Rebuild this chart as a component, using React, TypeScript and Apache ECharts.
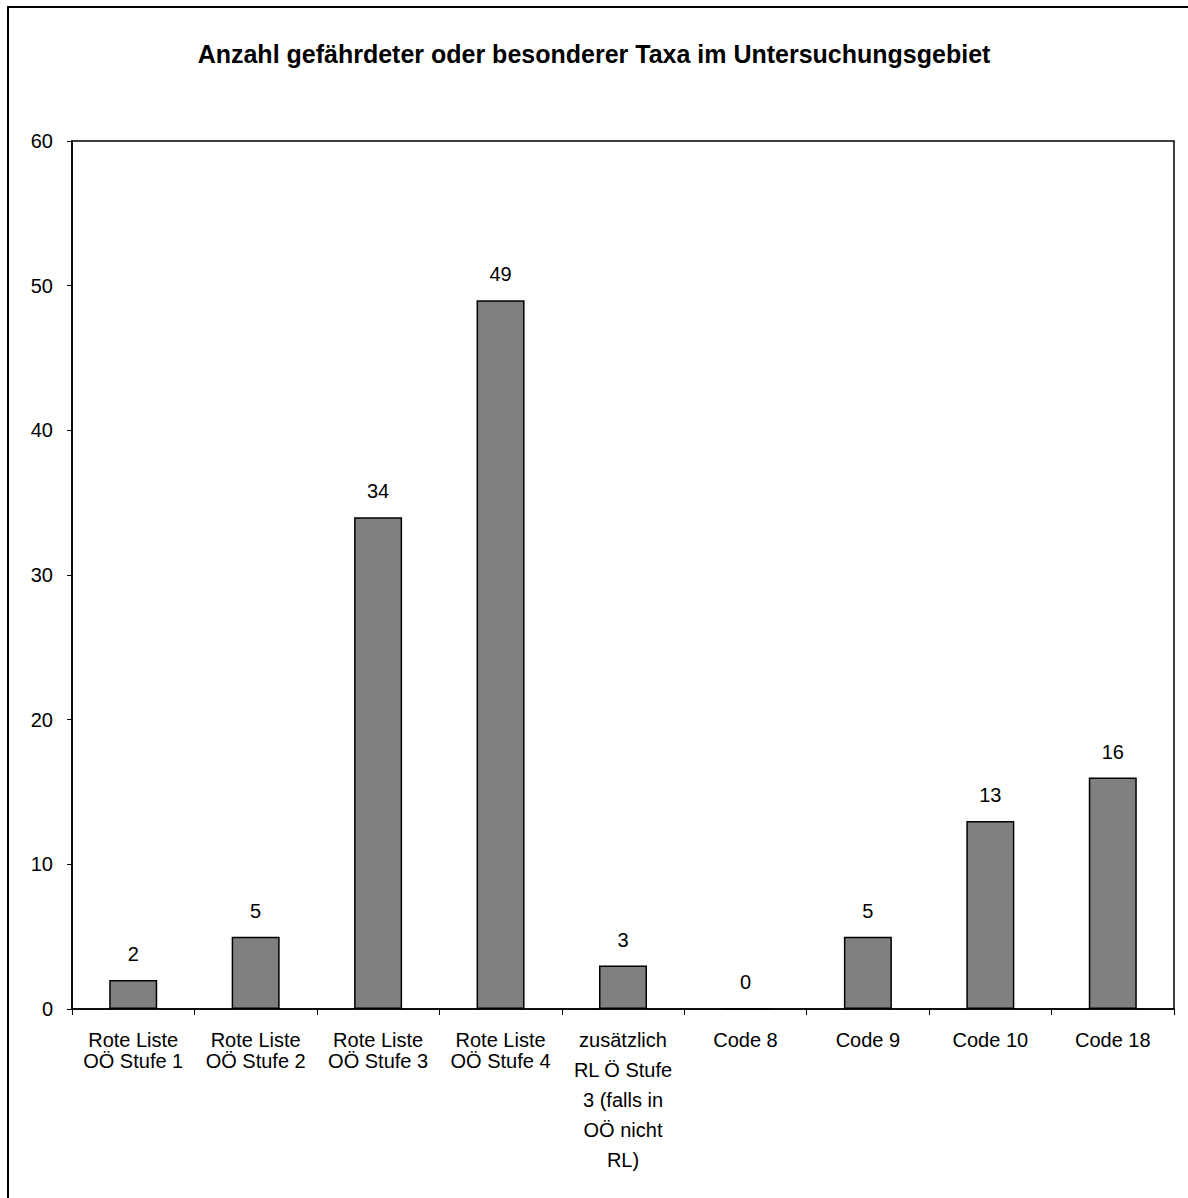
import React, { useEffect, useRef } from "react";
import * as echarts from "echarts";

const TITLE = "Anzahl gefährdeter oder besonderer Taxa im Untersuchungsgebiet";
const categories = [
  "Rote Liste\nOÖ Stufe 1",
  "Rote Liste\nOÖ Stufe 2",
  "Rote Liste\nOÖ Stufe 3",
  "Rote Liste\nOÖ Stufe 4",
  "zusätzlich\nRL Ö Stufe\n3 (falls in\nOÖ nicht\nRL)",
  "Code 8",
  "Code 9",
  "Code 10",
  "Code 18",
];
const values = [2, 5, 34, 49, 3, 0, 5, 13, 16];
const yMin = 0;
const yMax = 60;
const yInterval = 10;

const FONT = "'Liberation Sans', Arial, sans-serif";

export default function App() {
  const ref = useRef<HTMLDivElement>(null);
  useEffect(() => {
    if (!ref.current) return;
    const chart = echarts.init(ref.current, null, { renderer: "svg" });
    chart.setOption({
      animation: false,
      backgroundColor: "#fff",
      textStyle: { fontFamily: FONT },
      title: {
        text: TITLE,
        left: "center",
        top: 36,
        textStyle: { fontFamily: FONT, fontSize: 25, fontWeight: "bold", color: "#000" },
      },
      graphic: [
        {
          type: "rect",
          shape: { x: 8, y: 7, width: 1200, height: 1210 },
          style: { fill: "none", stroke: "#000", lineWidth: 2 },
          silent: true,
        },
      ],
      grid: {
        left: 72,
        top: 141,
        right: 14,
        bottom: 189,
        show: true,
        borderColor: "#000",
        borderWidth: 1.5,
        backgroundColor: "#fff",
      },
      xAxis: {
        type: "category",
        data: categories,
        axisLine: { show: true, lineStyle: { color: "#000", width: 1.5 } },
        axisTick: { show: true, length: 6, alignWithLabel: false, lineStyle: { color: "#000" } },
        axisLabel: {
          interval: 0,
          margin: 16,
          color: "#000",
          fontSize: 20,
          fontFamily: FONT,
          formatter: (v: string) => {
            const lines = v.split("\n");
            if (lines.length === 2) return `{a|${lines[0]}}\n{s|${lines[1]}}`;
            return lines.map((l) => `{a|${l}}`).join("\n");
          },
          rich: {
            a: { fontSize: 20, fontFamily: FONT, color: "#000", lineHeight: 30 },
            s: { fontSize: 20, fontFamily: FONT, color: "#000", lineHeight: 12 },
          },
        },
      },
      yAxis: {
        type: "value",
        min: yMin,
        max: yMax,
        interval: yInterval,
        axisLine: { show: true, lineStyle: { color: "#000", width: 1.5 } },
        axisTick: { show: true, length: 5, lineStyle: { color: "#000" } },
        splitLine: { show: false },
        axisLabel: { color: "#000", fontSize: 20, margin: 19, fontFamily: FONT },
      },
      series: [
        {
          type: "bar",
          data: values,
          barWidth: 48,
          itemStyle: { color: "#808080", borderColor: "#000", borderWidth: 1.5 },
          label: {
            show: true,
            position: "top",
            distance: 16,
            color: "#000",
            fontSize: 20,
            fontFamily: FONT,
          },
        },
      ],
    });
    return () => chart.dispose();
  }, []);
  return (
    <div
      ref={ref}
      style={{ position: "absolute", left: 0, top: 0, width: 1188, height: 1198 }}
    />
  );
}
